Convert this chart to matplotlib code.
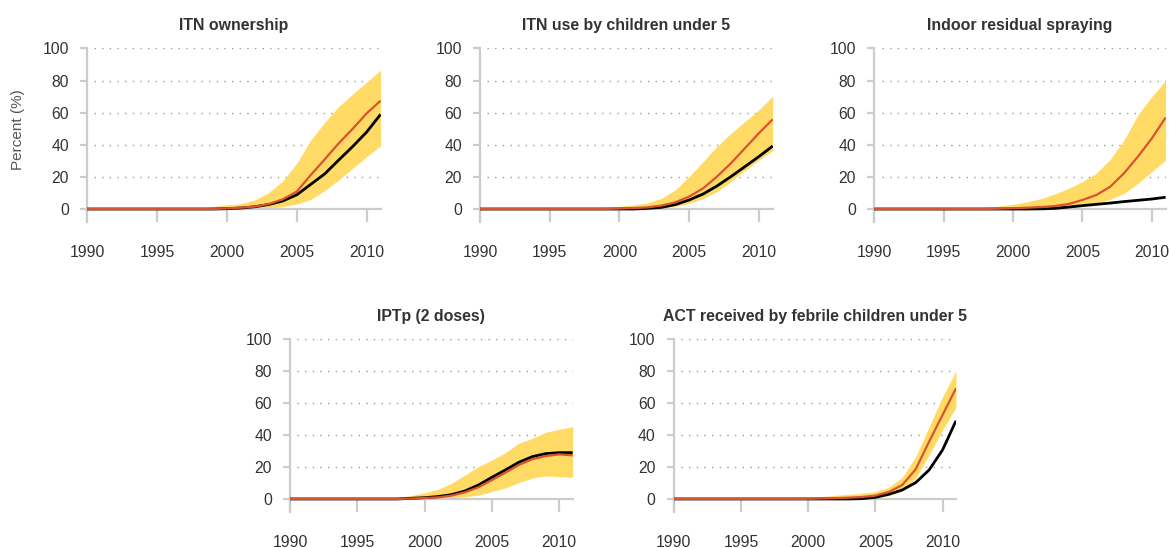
import matplotlib
matplotlib.use("Agg")
import matplotlib.pyplot as plt
import numpy as np

years = list(range(1990, 2012))

titles = ["ITN ownership", "ITN use by children under 5", "Indoor residual spraying",
          "IPTp (2 doses)", "ACT received by febrile children under 5"]

# values 1990..2011
itn_own_black = [0.2]*10 + [0.4, 0.8, 1.6, 3.0, 5.2, 9.0, 15.5, 22.0, 30.6, 39.0, 48.0, 59.0]
itn_own_red   = [0.2]*10 + [0.6, 1.0, 1.7, 3.3, 6.2, 11.0, 21.3, 31.0, 41.0, 50.0, 59.6, 67.5]
itn_own_hi    = [0.2]*8 + [0.8, 1.6, 2.7, 3.5, 5.8, 10.4, 17.6, 28.6, 43.0, 54.0, 63.8, 71.6, 79.0, 86.5]
itn_own_lo    = [0.0]*13 + [0.6, 1.7, 3.3, 6.2, 11.6, 18.2, 25.5, 32.7, 39.5]

itn_use_black = [0.2]*12 + [0.6, 1.2, 2.9, 5.8, 9.5, 14.5, 20.3, 26.5, 32.7, 39.3]
itn_use_red   = [0.2]*10 + [0.5, 0.8, 1.2, 2.3, 4.3, 7.9, 13.0, 20.3, 28.6, 37.9, 47.2, 55.9]
itn_use_hi    = [0.2]*8 + [0.6, 1.2, 1.9, 2.7, 3.9, 6.8, 12.0, 20.3, 29.6, 39.0, 47.2, 54.5, 61.7, 70.4]
itn_use_lo    = [0.0]*13 + [1.0, 1.9, 3.7, 6.6, 11.0, 17.2, 24.0, 30.6, 36.4]

irs_black = [0.2]*12 + [0.3, 0.6, 1.4, 2.3, 3.1, 3.9, 4.8, 5.6, 6.4, 7.5]
irs_red   = [0.2]*9 + [0.4, 0.7, 1.0, 1.4, 2.0, 3.3, 5.8, 8.9, 14.0, 22.4, 32.7, 44.0, 57.0]
irs_hi    = [0.2]*7 + [0.5, 1.2, 2.0, 3.1, 4.6, 6.6, 9.5, 13.0, 17.2, 22.4, 31.0, 43.0, 58.6, 70.0, 80.0]
irs_lo    = [0.1]*13 + [0.6, 1.2, 2.3, 3.7, 6.2, 9.9, 16.1, 23.4, 30.6]

iptp_black = [0.2]*9 + [0.6, 1.0, 1.7, 2.9, 5.2, 8.9, 13.7, 18.3, 23.1, 26.6, 28.5, 29.1, 29.1]
iptp_red   = [0.2]*9 + [0.5, 0.8, 1.2, 2.3, 4.4, 7.5, 12.0, 16.6, 21.4, 25.0, 27.0, 28.0, 27.4]
iptp_hi    = [0.2]*7 + [0.5, 1.2, 2.3, 4.0, 6.2, 10.0, 15.2, 20.4, 24.5, 29.1, 35.0, 38.0, 41.8, 43.7, 45.3]
iptp_lo    = [0.1]*12 + [0.8, 1.5, 2.7, 4.8, 7.1, 10.4, 13.3, 14.6, 14.1, 13.7]

act_black = [0.2]*14 + [0.4, 1.2, 3.1, 5.8, 10.4, 18.3, 30.8, 49.0]
act_red   = [0.2]*10 + [0.3, 0.5, 0.7, 1.0, 1.4, 2.3, 4.6, 8.9, 18.7, 36.0, 52.6, 69.2]
act_hi    = [0.2]*9 + [0.5, 1.0, 1.7, 2.5, 3.1, 3.7, 4.8, 7.5, 13.7, 26.6, 45.3, 64.0, 80.0]
act_lo    = [0.1]*14 + [0.5, 1.0, 2.3, 5.2, 13.1, 27.6, 43.2, 57.4]

series = [
    (itn_own_black, itn_own_red, itn_own_hi, itn_own_lo),
    (itn_use_black, itn_use_red, itn_use_hi, itn_use_lo),
    (irs_black, irs_red, irs_hi, irs_lo),
    (iptp_black, iptp_red, iptp_hi, iptp_lo),
    (act_black, act_red, act_hi, act_lo),
]

yticks = [0, 20, 40, 60, 80, 100]
xticks = [1990, 1995, 2000, 2005, 2010]

plt.rcParams['font.family'] = ['Liberation Sans', 'DejaVu Sans']

W, H = 1169, 548
fig = plt.figure(figsize=(W / 100, H / 100), dpi=100)

positions = [
    (0.0744, 0.5945, 0.2512, 0.3173),
    (0.4106, 0.5945, 0.2504, 0.3173),
    (0.7479, 0.5945, 0.2492, 0.3173),
    (0.2481, 0.0655, 0.2418, 0.3159),
    (0.5763, 0.0655, 0.2415, 0.3159),
]

band_c = "#FFDB66"
red_c = "#D9532C"
spine_c = "#CCCCCC"
text_c = "#333333"

for i, (pos, title, (blk, red, hi, lo)) in enumerate(zip(positions, titles, series)):
    ax = fig.add_axes(pos)
    ax.set_xlim(1990, 2011)
    ax.set_ylim(-8, 100)
    ax.fill_between(years, lo, hi, color=band_c, lw=0, zorder=2)
    ax.plot(years, blk, color="black", lw=2.0, zorder=3, solid_capstyle='butt')
    ax.plot(years, red, color=red_c, lw=1.6, zorder=4, solid_capstyle='butt')
    for y in yticks[1:]:
        ax.axhline(y, xmin=0.025, xmax=1.0, color="#999999", lw=1.0,
                   linestyle=(0, (1, 4.5)), zorder=1)
    for s in ["top", "right"]:
        ax.spines[s].set_visible(False)
    ax.spines["bottom"].set_position(("data", 0))
    for s in ["left", "bottom"]:
        ax.spines[s].set_color(spine_c)
        ax.spines[s].set_linewidth(1.6)
    ax.set_xticks(xticks)
    ax.set_yticks(yticks)
    ax.tick_params(axis="x", direction="out", length=9.4, width=1.6, color=spine_c,
                   pad=16, labelsize=11.3, labelcolor=text_c)
    ax.tick_params(axis="y", direction="out", length=5, width=1.6, color=spine_c,
                   pad=8, labelsize=11.3, labelcolor=text_c)
    ax.set_title(title, fontsize=11.4, fontweight="bold", color=text_c, pad=13)
    ax.patch.set_visible(False)
    if i == 0:
        ax.set_ylabel("Percent (%)", fontsize=11, color="#555555", labelpad=10)
        ax.yaxis.set_label_coords(-0.21, 0.534)

fig.savefig("out.png", dpi=100)
